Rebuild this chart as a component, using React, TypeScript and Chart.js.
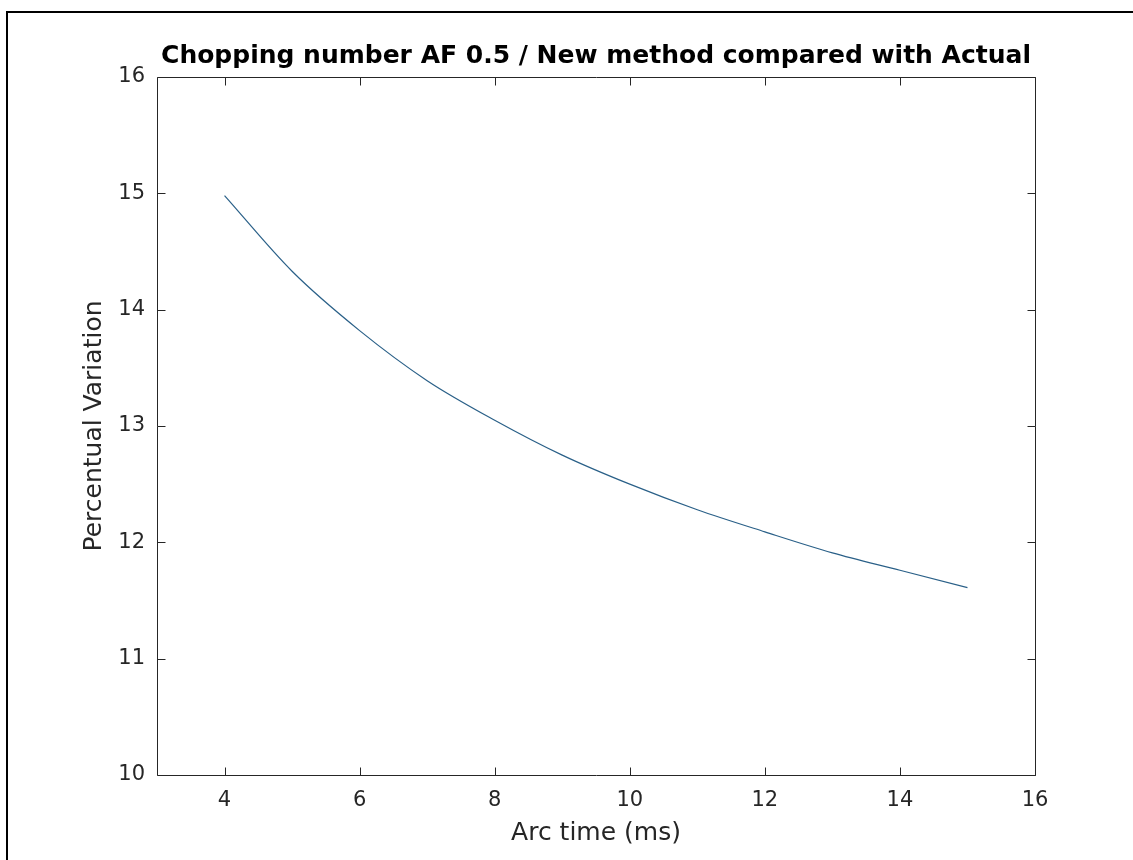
import React, { useEffect, useRef } from "react";
import { Chart, registerables } from "chart.js";

Chart.register(...registerables);

const arcTime = [4, 5, 6, 7, 8, 9, 10, 11, 12, 13, 14, 15];
const variation = [14.98, 14.33, 13.82, 13.39, 13.05, 12.75, 12.5, 12.28, 12.09, 11.91, 11.76, 11.61];
const xTicks = [4, 6, 8, 10, 12, 14, 16];
const yTicks = [10, 11, 12, 13, 14, 15, 16];
const titleText = "Chopping number AF 0.5 / New method compared with Actual";
const xLabel = "Arc time (ms)";
const yLabel = "Percentual Variation";

const AXIS = "#262626";
const FONT = "'DejaVu Sans', sans-serif";

const boxPlugin = {
  id: "matlabBox",
  beforeDraw(chart: any) {
    const { ctx } = chart;
    ctx.save();
    ctx.fillStyle = "#ffffff";
    ctx.fillRect(0, 0, chart.width, chart.height);
    ctx.restore();
  },
  afterDraw(chart: any) {
    const { ctx, chartArea: a, scales } = chart;
    const L = Math.round(a.left) + 0.5;
    const R = Math.round(a.right) + 0.5;
    const T = Math.round(a.top) + 0.5;
    const B = Math.round(a.bottom) + 0.5;
    const tl = 8;
    ctx.save();
    ctx.strokeStyle = AXIS;
    ctx.lineWidth = 1;
    ctx.beginPath();
    ctx.rect(L, T, R - L, B - T);
    ctx.stroke();
    ctx.beginPath();
    xTicks.forEach((v) => {
      const px = Math.round(scales.x.getPixelForValue(v)) + 0.5;
      ctx.moveTo(px, B);
      ctx.lineTo(px, B - tl);
      ctx.moveTo(px, T);
      ctx.lineTo(px, T + tl);
    });
    yTicks.forEach((v) => {
      const py = Math.round(scales.y.getPixelForValue(v)) + 0.5;
      ctx.moveTo(L, py);
      ctx.lineTo(L + tl, py);
      ctx.moveTo(R, py);
      ctx.lineTo(R - tl, py);
    });
    ctx.stroke();
    // outer image frame (top and left edges)
    ctx.strokeStyle = "#000000";
    ctx.lineWidth = 2;
    ctx.beginPath();
    ctx.moveTo(7, chart.height);
    ctx.lineTo(7, 12);
    ctx.lineTo(chart.width, 12);
    ctx.stroke();
    ctx.restore();
  },
};

export default function App() {
  const ref = useRef<HTMLCanvasElement | null>(null);

  useEffect(() => {
    document.body.style.margin = "0";
    if (!ref.current) return;
    const chart = new Chart(ref.current, {
      type: "line",
      data: {
        datasets: [
          {
            label: "variation",
            data: arcTime.map((x, i) => ({ x, y: variation[i] })),
            borderColor: "#2a6088",
            borderWidth: 1.2,
            pointRadius: 0,
            cubicInterpolationMode: "monotone",
            fill: false,
          },
        ],
      },
      options: {
        responsive: false,
        animation: false,
        layout: { padding: { left: 57, right: 98, top: 20, bottom: 10 } },
        plugins: {
          legend: { display: false },
          tooltip: { enabled: false },
          title: {
            display: true,
            text: titleText,
            fullSize: false,
            color: "#000000",
            font: { family: FONT, size: 25, weight: "bold" },
            padding: { top: 21, bottom: 6 },
          },
        },
        scales: {
          x: {
            type: "linear",
            min: 3,
            max: 16,
            afterBuildTicks: (scale: any) => {
              scale.ticks = xTicks.map((v) => ({ value: v }));
            },
            afterFit: (scale: any) => {
              scale.height = 75;
            },
            grid: { display: false, drawTicks: false },
            border: { display: false },
            ticks: {
              color: AXIS,
              font: { family: FONT, size: 21 },
              padding: 13,
              maxRotation: 0,
              autoSkip: false,
            },
            title: {
              display: true,
              text: xLabel,
              color: AXIS,
              font: { family: FONT, size: 25 },
              padding: { top: 0, bottom: 2 },
            },
          },
          y: {
            type: "linear",
            min: 10,
            max: 16,
            afterBuildTicks: (scale: any) => {
              scale.ticks = yTicks.map((v) => ({ value: v }));
            },
            afterFit: (scale: any) => {
              scale.width = 100;
            },
            grid: { display: false, drawTicks: false },
            border: { display: false },
            ticks: {
              color: AXIS,
              font: { family: FONT, size: 21 },
              padding: 12,
              autoSkip: false,
            },
            title: {
              display: true,
              text: yLabel,
              color: AXIS,
              font: { family: FONT, size: 25 },
              padding: { top: 22, bottom: 0 },
            },
          },
        },
      },
      plugins: [boxPlugin],
    } as any);
    return () => chart.destroy();
  }, []);

  return (
    <div style={{ width: 1133, height: 860 }}>
      <canvas ref={ref} width={1133} height={860} />
    </div>
  );
}
